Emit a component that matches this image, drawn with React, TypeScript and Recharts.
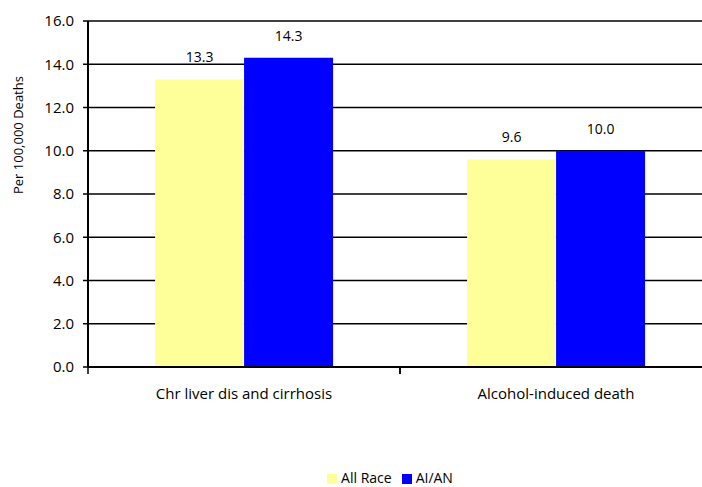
import React from "react";
import { BarChart, Bar, XAxis, YAxis, CartesianGrid, Legend, LabelList } from "recharts";

const categories = ["Chr liver dis and cirrhosis", "Alcohol-induced death"];
const allRace = [13.3, 9.6];
const aian = [14.3, 10.0];
const yTicks = [0, 2, 4, 6, 8, 10, 12, 14, 16];

const data = categories.map((name, i) => ({ name, allRace: allRace[i], aian: aian[i] }));

const font = "'Open Sans', Lato, sans-serif";

// category label plus the tick mark on the left boundary of its band
function CategoryTick(props: any) {
  const { x, y, payload } = props;
  const half = payload.offset || 156;
  return (
    <g>
      <line x1={x - half} x2={x - half} y1={y - 8} y2={y - 1} stroke="#000" strokeWidth={1.5} />
      <line x1={x + half} x2={x + half} y1={y - 8} y2={y - 1} stroke="#000" strokeWidth={1.5} />
      <text x={x} y={y} dy={24} textAnchor="middle" fill="#000" fontSize={15}>
        {payload.value}
      </text>
    </g>
  );
}

export default function App() {
  return (
    <div style={{ position: "absolute", left: 0, top: 0, width: 702, height: 487, overflow: "hidden", background: "#fff" }}>
      <BarChart
        width={720}
        height={487}
        data={data}
        margin={{ top: 21, right: 8, left: 0, bottom: 0 }}
        barGap={0}
        barCategoryGap="21.5%"
        style={{ fontFamily: font }}
      >
        <CartesianGrid vertical={false} stroke="#000" strokeWidth={1.5} />
        <XAxis
          dataKey="name"
          axisLine={{ stroke: "#000", strokeWidth: 2 }}
          tickLine={false}
          tick={<CategoryTick />}
          height={101}
        />
        <YAxis
          domain={[0, 16]}
          ticks={yTicks}
          tickFormatter={(v: number) => v.toFixed(1)}
          width={88}
          axisLine={{ stroke: "#000", strokeWidth: 2 }}
          tickLine={{ stroke: "#000", strokeWidth: 1.5 }}
          tickSize={5}
          tickMargin={9}
          tick={{ fill: "#000", fontSize: 15 }}
          interval={0}
          label={{ value: "Per 100,000 Deaths", angle: -90, position: "insideLeft", offset: 18, fill: "#000", fontSize: 13 }}
        />
        <Legend
          verticalAlign="bottom"
          iconType="square"
          iconSize={10}
          itemSorter={(item: any) => (item.dataKey === "allRace" ? 0 : 1)}
          wrapperStyle={{ left: 300, width: 190, bottom: 0, fontSize: 14, color: "#000" }}
          formatter={(v: string) => <span style={{ color: "#000" }}>{v}</span>}
        />
        <Bar dataKey="allRace" name="All Race" fill="#FFFF99" isAnimationActive={false}>
          <LabelList dataKey="allRace" position="top" offset={17} fill="#000" fontSize={14} formatter={(v: number) => v.toFixed(1)} />
        </Bar>
        <Bar dataKey="aian" name="AI/AN" fill="#0000FF" isAnimationActive={false}>
          <LabelList dataKey="aian" position="top" offset={17} fill="#000" fontSize={14} formatter={(v: number) => v.toFixed(1)} />
        </Bar>
      </BarChart>
    </div>
  );
}
